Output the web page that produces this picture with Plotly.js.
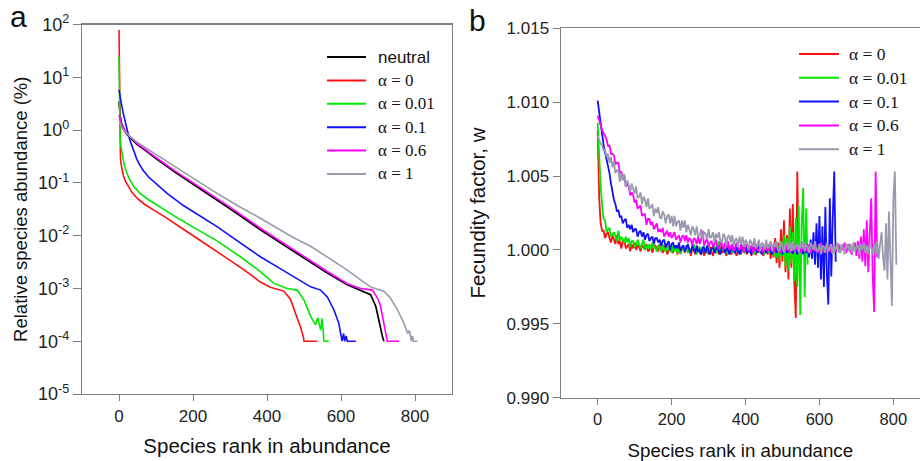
<!DOCTYPE html>
<html>
<head>
<meta charset="utf-8">
<script src="https://cdn.plot.ly/plotly-3.0.1.min.js"></script>
<style>html,body{margin:0;padding:0;background:#fff;}#chart{width:920px;height:461px;}</style>
</head>
<body>
<div id="chart"></div>
<script>
// ---------- Panel a: relative species abundance (%) vs rank ----------
var rankNeutral = [0,1,3,6,10,16,24,35,50,70,100,150,200,250,300,382,472,563,617,653,680,694,703,712,716];
var abNeutral = [3.47,2.63,1.91,1.41,1.15,0.933,0.794,0.661,0.525,0.417,0.288,0.162,0.0955,0.0562,0.0324,0.0129,0.00501,0.00195,0.00117,0.00093,0.00076,0.00046,0.00022,0.000123,0.0001];

var rankA0 = [0,1,2,3,4,6,8,12,18,25,35,50,70,95,125,174,200,250,292,340,382,409,445,463,477,490,498,500,536];
var abA0 = [79.4,6.31,0.631,0.380,0.295,0.219,0.178,0.135,0.105,0.0851,0.0661,0.0501,0.0389,0.0302,0.0224,0.0132,0.01,0.00603,0.00372,0.00219,0.00132,0.00105,0.00089,0.00063,0.000355,0.000191,0.000123,0.0001,0.0001];

var rankA001 = [0,1,2,3,5,7,10,14,20,28,40,57,80,110,150,200,265,328,382,418,454,482,500,518,531,537,541,545,549,552,554,567];
var abA001 = [24.5,3.16,1.0,0.708,0.501,0.398,0.302,0.224,0.162,0.117,0.0851,0.0631,0.0479,0.0347,0.0234,0.0145,0.00794,0.00398,0.00209,0.00126,0.001,0.00093,0.0006,0.000295,0.000204,0.00028,0.0002,0.000162,0.00027,0.000158,0.0001,0.0001];

var rankA01 = [0,3,7,12,16,20,25,30,36,42,48,56,66,80,100,130,174,220,265,320,382,430,472,518,545,563,581,594,599,603,607,610,614,617,640];
var abA01 = [5.75,4.17,3.02,2.0,1.48,1.12,0.832,0.631,0.468,0.355,0.282,0.219,0.170,0.129,0.0955,0.0631,0.0372,0.0234,0.0148,0.00794,0.00398,0.00251,0.00166,0.00107,0.00093,0.00069,0.00039,0.00022,0.00014,0.0001,0.00014,0.0001,0.000126,0.0001,0.0001];

var rankA06 = [0,2,5,10,16,24,35,50,70,100,150,200,250,300,382,472,563,617,653,685,700,707,716,722,725,757];
var abA06 = [1.95,1.66,1.38,1.15,0.977,0.832,0.692,0.550,0.437,0.302,0.170,0.1,0.0603,0.0347,0.0138,0.00537,0.00209,0.00123,0.001,0.00093,0.00063,0.00046,0.00022,0.000126,0.0001,0.0001];

var rankA1 = [0,3,6,12,20,30,45,66,84,120,150,200,265,320,382,472,518,563,610,653,680,700,716,734,753,770,780,785,790,793,796,807];
var abA1 = [1.55,1.32,1.17,1.0,0.871,0.75,0.617,0.490,0.407,0.282,0.204,0.123,0.0631,0.0372,0.0214,0.00912,0.0063,0.00398,0.0024,0.00145,0.00107,0.00095,0.00089,0.00065,0.00039,0.00022,0.00014,0.00016,0.0001,0.000126,0.0001,0.0001];

var yTickVals = [1e-5,1e-4,1e-3,1e-2,1e-1,1,10,100];
var yTickText = ['10<sup>-5</sup>','10<sup>-4</sup>','10<sup>-3</sup>','10<sup>-2</sup>','10<sup>-1</sup>','10<sup>0</sup>','10<sup>1</sup>','10<sup>2</sup>'];
var xTickVals = [0,200,400,600,800];

// ---------- Panel b: fecundity factor w vs rank (sampled every 4 ranks) ----------
var rankGrid = [0,4,8,12,16,20,24,28,32,36,40,44,48,52,56,60,64,68,72,76,80,84,88,92,96,100,104,108,112,116,120,124,128,132,136,140,144,148,152,156,160,164,168,172,176,180,184,188,192,196,200,204,208,212,216,220,224,228,232,236,240,244,248,252,256,260,264,268,272,276,280,284,288,292,296,300,304,308,312,316,320,324,328,332,336,340,344,348,352,356,360,364,368,372,376,380,384,388,392,396,400,404,408,412,416,420,424,428,432,436,440,444,448,452,456,460,464,468,472,476,480,484,488,492,496,500,504,508,512,516,520,524,528,532,536,540,544,548,552,556,560,564,568,572,576,580,584,588,592,596,600,604,608,612,616,620,624,628,632,636,640,644,648,652,656,660,664,668,672,676,680,684,688,692,696,700,704,708,712,716,720,724,728,732,736,740,744,748,752,756,760,764,768,772,776,780,784,788,792,796,800,804,808];

var wA0 = [1.0081,1.0036,1.0018,1.0013,1.0013,1.0008,1.0011,1.0012,1.0008,1.0005,1.0010,1.0007,1.0004,1.0010,1.0004,1.0006,1.0001,1.0006,1.0007,1.0001,1.0003,1.0004,0.9999,1.0004,1.0001,1.0005,1.0000,1.0003,1.0002,0.9999,1.0003,1.0002,1.0000,1.0004,0.9999,1.0000,1.0003,0.9998,1.0002,1.0003,1.0001,0.9999,1.0004,1.0000,0.9998,1.0001,1.0004,0.9997,1.0000,1.0002,0.9999,0.9998,1.0003,1.0001,0.9997,1.0002,0.9999,1.0000,1.0002,0.9998,1.0003,0.9999,1.0001,0.9996,1.0001,1.0000,0.9997,0.9999,1.0002,0.9998,0.9997,1.0001,0.9996,1.0000,1.0000,0.9997,1.0002,0.9999,0.9996,1.0001,0.9998,1.0000,0.9997,1.0003,0.9998,0.9999,1.0001,0.9996,1.0000,1.0002,0.9997,0.9998,1.0001,0.9999,0.9996,1.0000,1.0001,0.9997,1.0002,0.9998,0.9999,0.9997,1.0001,1.0000,0.9996,1.0002,0.9998,0.9997,1.0000,1.0001,0.9998,1.0002,0.9996,0.9999,1.0001,0.9997,1.0004,0.9994,1.0003,0.9995,1.0008,0.9991,1.0005,0.9988,1.0014,0.9992,1.0020,0.9985,1.0010,0.9980,1.0028,0.9988,1.0031,0.9978,0.9954,1.0053,0.9994];

var wA001 = [1.0086,1.0062,1.0044,1.0030,1.0021,1.0020,1.0012,1.0014,1.0015,1.0009,1.0011,1.0012,1.0009,1.0006,1.0013,1.0006,1.0009,1.0007,1.0005,1.0009,1.0005,1.0008,1.0002,1.0006,1.0006,1.0002,1.0003,1.0007,1.0003,1.0001,1.0004,1.0007,1.0000,1.0003,1.0001,1.0004,1.0000,1.0005,1.0001,1.0002,0.9999,1.0003,1.0002,0.9999,1.0004,1.0000,0.9999,1.0003,1.0001,1.0002,0.9998,1.0003,0.9999,1.0002,0.9998,1.0001,0.9997,1.0002,1.0000,0.9999,1.0003,0.9998,1.0001,0.9998,1.0002,1.0004,0.9999,0.9997,1.0000,1.0002,0.9998,1.0001,1.0003,0.9999,0.9998,1.0002,0.9997,1.0000,1.0001,1.0003,0.9998,0.9999,1.0006,0.9997,1.0001,1.0000,1.0002,0.9999,0.9997,1.0003,1.0001,0.9998,1.0000,1.0002,0.9999,1.0001,0.9997,1.0002,1.0003,0.9998,0.9999,1.0001,1.0000,0.9998,1.0002,0.9999,0.9997,1.0002,1.0001,0.9998,1.0003,0.9999,1.0000,0.9997,1.0002,1.0001,0.9998,1.0003,0.9998,0.9996,1.0004,0.9995,1.0003,0.9993,1.0006,0.9996,1.0010,0.9989,1.0008,0.9986,1.0016,0.9991,1.0012,0.9979,1.0022,0.9975,1.0030,0.9956,1.0018,1.0042,0.9968,1.0028,0.9990];

var wA01 = [1.0101,1.0093,1.0085,1.0077,1.0071,1.0066,1.0062,1.0058,1.0052,1.0045,1.0039,1.0034,1.0031,1.0026,1.0027,1.0022,1.0023,1.0018,1.0020,1.0021,1.0015,1.0017,1.0014,1.0017,1.0012,1.0014,1.0014,1.0009,1.0012,1.0013,1.0009,1.0012,1.0007,1.0010,1.0011,1.0006,1.0008,1.0009,1.0004,1.0008,1.0008,1.0005,1.0007,1.0003,1.0006,1.0007,1.0002,1.0004,1.0006,1.0000,1.0004,1.0005,1.0001,1.0003,1.0001,1.0005,0.9999,1.0002,1.0003,0.9999,1.0002,1.0004,1.0000,0.9998,1.0003,1.0001,0.9998,1.0003,0.9999,1.0000,0.9997,1.0002,1.0001,0.9998,1.0003,0.9999,0.9997,1.0001,1.0002,0.9998,1.0000,1.0003,0.9999,0.9997,1.0002,1.0001,0.9998,1.0000,1.0002,0.9997,1.0001,1.0003,0.9999,0.9998,1.0002,1.0000,0.9997,1.0001,1.0002,0.9999,1.0003,0.9998,0.9999,1.0001,0.9997,1.0002,1.0000,1.0001,0.9998,1.0003,0.9999,0.9997,1.0002,1.0001,0.9998,1.0000,1.0002,0.9999,0.9997,1.0001,1.0003,0.9998,1.0000,0.9999,1.0002,0.9997,1.0001,1.0002,0.9998,1.0000,1.0003,0.9999,0.9998,1.0001,1.0002,0.9997,1.0001,0.9999,1.0002,0.9997,1.0002,0.9998,1.0004,0.9995,1.0007,0.9994,1.0012,0.9990,1.0018,0.9988,1.0023,0.9980,1.0016,0.9975,1.0029,0.9984,0.9963,1.0035,0.9982,1.0022,1.0053,0.9992];

var wA06 = [1.0091,1.0087,1.0084,1.0081,1.0079,1.0077,1.0075,1.0070,1.0071,1.0065,1.0065,1.0064,1.0058,1.0059,1.0059,1.0052,1.0053,1.0049,1.0051,1.0043,1.0044,1.0043,1.0037,1.0039,1.0037,1.0032,1.0034,1.0028,1.0029,1.0030,1.0023,1.0024,1.0024,1.0017,1.0021,1.0021,1.0017,1.0019,1.0014,1.0016,1.0018,1.0012,1.0014,1.0012,1.0015,1.0009,1.0011,1.0013,1.0009,1.0012,1.0008,1.0010,1.0012,1.0007,1.0009,1.0010,1.0005,1.0009,1.0010,1.0006,1.0010,1.0005,1.0008,1.0007,1.0003,1.0008,1.0007,1.0004,1.0009,1.0004,1.0007,1.0013,1.0003,1.0006,1.0008,1.0002,1.0005,1.0006,1.0002,1.0004,1.0007,1.0002,1.0001,1.0005,1.0004,1.0000,1.0005,1.0002,1.0006,1.0000,1.0002,1.0004,0.9999,1.0003,1.0005,1.0001,1.0000,1.0004,1.0002,0.9999,1.0003,1.0004,0.9999,1.0001,1.0003,0.9998,1.0002,1.0004,1.0000,0.9999,1.0003,1.0002,0.9998,1.0003,1.0001,0.9999,1.0004,1.0000,1.0002,0.9998,1.0003,1.0005,0.9999,1.0001,0.9998,1.0003,1.0002,0.9999,1.0004,1.0000,0.9998,1.0003,1.0001,0.9999,1.0004,1.0000,1.0002,0.9998,1.0003,1.0000,1.0004,0.9999,1.0001,1.0003,0.9998,1.0002,1.0004,0.9999,1.0001,0.9998,1.0003,1.0005,1.0000,0.9998,1.0003,1.0001,0.9999,1.0004,0.9998,1.0002,1.0003,0.9999,1.0001,1.0004,0.9998,1.0003,1.0000,1.0005,0.9998,1.0002,1.0004,0.9999,0.9997,1.0003,1.0005,0.9996,1.0006,0.9994,1.0009,0.9992,1.0014,0.9989,1.0020,0.9985,1.0018,1.0035,0.9983,0.9958,1.0053,0.9995];

var wA1 = [1.0077,1.0074,1.0072,1.0071,1.0067,1.0068,1.0063,1.0065,1.0059,1.0063,1.0056,1.0060,1.0052,1.0054,1.0054,1.0046,1.0052,1.0047,1.0051,1.0043,1.0047,1.0044,1.0039,1.0045,1.0042,1.0038,1.0043,1.0035,1.0036,1.0039,1.0031,1.0036,1.0034,1.0029,1.0035,1.0028,1.0029,1.0031,1.0023,1.0028,1.0025,1.0029,1.0022,1.0021,1.0026,1.0024,1.0018,1.0023,1.0024,1.0018,1.0023,1.0016,1.0023,1.0016,1.0019,1.0020,1.0013,1.0020,1.0015,1.0020,1.0012,1.0017,1.0014,1.0010,1.0016,1.0014,1.0010,1.0016,1.0009,1.0010,1.0014,1.0007,1.0012,1.0011,1.0007,1.0014,1.0008,1.0009,1.0012,1.0005,1.0011,1.0008,1.0012,1.0006,1.0005,1.0011,1.0009,1.0003,1.0009,1.0010,1.0005,1.0010,1.0003,1.0007,1.0008,1.0002,1.0009,1.0004,1.0009,1.0002,1.0007,1.0005,1.0000,1.0007,1.0005,1.0002,1.0008,1.0001,1.0003,1.0007,0.9999,1.0005,1.0004,1.0000,1.0007,1.0001,1.0003,1.0006,0.9999,1.0005,1.0002,1.0006,1.0000,0.9999,1.0005,1.0003,0.9998,1.0004,1.0005,1.0000,1.0005,0.9999,1.0006,1.0000,1.0003,1.0004,0.9998,1.0005,1.0001,1.0006,0.9999,1.0004,1.0002,0.9998,1.0005,1.0003,1.0000,1.0006,0.9999,1.0000,1.0004,0.9997,1.0003,1.0002,0.9998,1.0005,0.9999,1.0001,1.0004,0.9997,1.0003,1.0000,1.0005,0.9999,0.9998,1.0004,1.0002,0.9997,1.0003,1.0004,0.9999,1.0004,0.9998,1.0005,0.9999,1.0002,1.0003,0.9997,1.0004,1.0000,1.0005,0.9998,1.0003,0.9997,1.0004,1.0002,0.9997,1.0004,0.9997,1.0006,0.9994,1.0004,1.0012,0.9995,0.9986,1.0018,0.9980,1.0026,0.9988,0.9962,1.0035,1.0053,0.9990];

var wTickVals = [0.990,0.995,1.000,1.005,1.010,1.015];
var wTickText = ['0.990','0.995','1.000','1.005','1.010','1.015'];

var legendNames = ['neutral','α = 0','α = 0.01','α = 0.1','α = 0.6','α = 1'];

// ---------- styles ----------
var SANS = 'Liberation Sans, Arial, sans-serif';
var SERIF = 'Liberation Serif, Times New Roman, serif';
var C = {neutral:'#000000', a0:'#ff1010', a001:'#00e800', a01:'#1010ff', a06:'#ff00ff', a1:'#9a9aae'};

function tr(x, y, color, xa, ya, name, w){
  return {x:x.slice(0, y.length), y:y, type:'scatter', mode:'lines', name:name, xaxis:xa, yaxis:ya,
          line:{color:color, width:w}, showlegend:false, hoverinfo:'skip'};
}

var data = [
  tr(rankNeutral, abNeutral, C.neutral, 'x', 'y', legendNames[0], 1.7),
  tr(rankA0, abA0, C.a0, 'x', 'y', legendNames[1], 1.6),
  tr(rankA001, abA001, C.a001, 'x', 'y', legendNames[2], 1.6),
  tr(rankA01, abA01, C.a01, 'x', 'y', legendNames[3], 1.6),
  tr(rankA06, abA06, C.a06, 'x', 'y', legendNames[4], 1.6),
  tr(rankA1, abA1, C.a1, 'x', 'y', legendNames[5], 1.6),
  tr(rankGrid, wA0, C.a0, 'x2', 'y2', legendNames[1], 1.8),
  tr(rankGrid, wA001, C.a001, 'x2', 'y2', legendNames[2], 1.8),
  tr(rankGrid, wA01, C.a01, 'x2', 'y2', legendNames[3], 1.8),
  tr(rankGrid, wA06, C.a06, 'x2', 'y2', legendNames[4], 1.8),
  tr(rankGrid, wA1, C.a1, 'x2', 'y2', legendNames[5], 1.8)
];

// hand-made legends (shapes + text), positioned in pixels
var shapes = [], annotations = [];
function px(x){ return x/920; }
function py(y){ return 1 - y/461; }
var legA = {x0:327, x1:366, tx:376, y0:57, dy:23.4, colors:[C.neutral,C.a0,C.a001,C.a01,C.a06,C.a1], names:legendNames, size:17};
var legB = {x0:799, x1:839, tx:847, y0:54, dy:23.8, colors:[C.a0,C.a001,C.a01,C.a06,C.a1], names:legendNames.slice(1), size:17.5};
[legA, legB].forEach(function(L){
  L.names.forEach(function(n, i){
    var yy = L.y0 + i*L.dy;
    shapes.push({type:'line', xref:'paper', yref:'paper', x0:px(L.x0), x1:px(L.x1), y0:py(yy), y1:py(yy),
                 line:{color:L.colors[i], width:2}});
    annotations.push({xref:'paper', yref:'paper', x:px(L.tx), y:py(yy), xanchor:'left', yanchor:'middle',
                      showarrow:false, text:n,
                      font:{family:(n==='neutral'?SANS:SERIF), size:L.size, color:'#111'}});
  });
});
annotations.push({xref:'paper', yref:'paper', x:px(8), y:py(16), xanchor:'left', yanchor:'middle', showarrow:false,
                  text:'a', font:{family:SANS, size:30, color:'#111'}});
annotations.push({xref:'paper', yref:'paper', x:px(467), y:py(20), xanchor:'left', yanchor:'middle', showarrow:false,
                  text:'b', font:{family:SANS, size:30, color:'#111'}});

var axLine = '#7f7f7f';
var tickFont = {family:SANS, size:17, color:'#222'};

var layout = {
  width:920, height:461,
  margin:{l:0, r:0, t:0, b:0},
  paper_bgcolor:'#ffffff', plot_bgcolor:'#ffffff',
  showlegend:false,
  xaxis:{domain:[82/920, 452/920], range:[-100,900], tickvals:xTickVals, ticks:'outside', ticklen:6, tickcolor:axLine,
         showline:true, linecolor:axLine, linewidth:1.2, mirror:true, showgrid:false, zeroline:false,
         tickfont:tickFont, anchor:'y',
         title:{text:'Species rank in abundance', font:{family:SANS, size:20.5, color:'#111'}, standoff:14}},
  yaxis:{domain:[1-394/461, 1-24.5/461], type:'log', range:[-5,2], tickvals:yTickVals, ticktext:yTickText,
         ticks:'outside', ticklen:8, tickcolor:axLine, showline:true, linecolor:axLine, linewidth:1.2, mirror:true,
         showgrid:false, zeroline:false, tickfont:{family:SANS, size:18, color:'#222'}, anchor:'x',
         title:{text:'Relative species abundance (%)', font:{family:SANS, size:18.5, color:'#111'}, standoff:5}},
  xaxis2:{domain:[560.7/920, 1], range:[-100,872], tickvals:xTickVals, ticks:'outside', ticklen:6, tickcolor:axLine,
          showline:true, linecolor:axLine, linewidth:1.2, mirror:true, showgrid:false, zeroline:false,
          tickfont:{family:SANS, size:16.5, color:'#222'}, anchor:'y2',
          title:{text:'Species rank in abundance', font:{family:SANS, size:18.7, color:'#111'}, standoff:17}},
  yaxis2:{domain:[1-397.7/461, 1-28.3/461], range:[0.990,1.015], tickvals:wTickVals, ticktext:wTickText,
          ticks:'outside', ticklen:7, tickcolor:axLine, showline:true, linecolor:axLine, linewidth:1.2, mirror:false,
          showgrid:false, zeroline:false, tickfont:tickFont, anchor:'x2',
          title:{text:'Fecundity factor, w', font:{family:SANS, size:20.5, color:'#111'}, standoff:15}},
  shapes:shapes, annotations:annotations
};

Plotly.newPlot('chart', data, layout, {staticPlot:true, displayModeBar:false});
</script>
</body>
</html>
